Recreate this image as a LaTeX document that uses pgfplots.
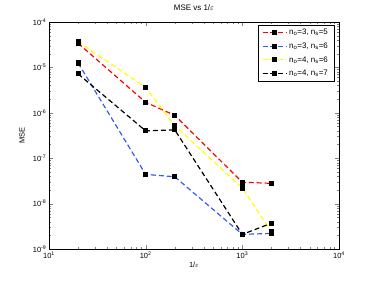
\documentclass[border=0pt]{standalone}
\usepackage{fontspec}
\setmainfont{Liberation Sans}
\usepackage{pgfplots}
\pgfplotsset{compat=1.18}
\definecolor{mblue}{rgb}{0.2,0.35,1}
\definecolor{myellow}{rgb}{1,1,0}
\begin{document}
\fontsize{7.5}{9}\selectfont
\begin{tikzpicture}
\begin{loglogaxis}[
  at={(0,0)}, anchor=south west,
  scale only axis, width=290bp, height=227bp,
  xmin=10, xmax=10000, ymin=1e-9, ymax=1e-4,
  xtick={10,100,1000,10000},
  xticklabels={10\textsuperscript{1},10\textsuperscript{2},10\textsuperscript{3},10\textsuperscript{4}},
  ytick={1e-9,1e-8,1e-7,1e-6,1e-5,1e-4},
  yticklabels={10\textsuperscript{-9},10\textsuperscript{-8},10\textsuperscript{-7},10\textsuperscript{-6},10\textsuperscript{-5},10\textsuperscript{-4}},
  tick label style={font=\fontsize{7.5}{9}\selectfont},
  tick align=inside, tick pos=both,
  major tick length=4bp, minor tick length=2bp,
  title={MSE vs 1/$\varepsilon$},
  title style={at={(0.5,1)}, anchor=south, yshift=3bp, font=\fontsize{8}{9}\selectfont},
  xlabel={1/$\varepsilon$}, ylabel={MSE},
  xlabel style={font=\fontsize{7.5}{9}\selectfont, yshift=2bp},
  ylabel style={font=\fontsize{7.5}{9}\selectfont, yshift=3bp},
  legend style={at={(0.983,0.987)}, anchor=north east, draw=black,
    font=\fontsize{8}{9.5}\selectfont, row sep=3pt, inner xsep=4pt},
  legend cell align=left,
  legend image code/.code={\draw[mark repeat=2,mark phase=2] plot coordinates {(0bp,0bp)(12bp,0bp)(24bp,0bp)};},
  every axis plot/.append style={line width=1.2pt, dash pattern=on 5pt off 3pt,
    mark=square*, mark size=2pt, mark options={solid, fill=black, draw=black}},
]
\addplot[red] coordinates {(20,3.4e-5) (100,1.7e-6) (200,8.8e-7) (1000,2.95e-8) (2000,2.8e-8)};
\addlegendentry{n\textsubscript{o}=3, n\textsubscript{s}=5}
\addplot[mblue] coordinates {(20,1.25e-5) (100,4.4e-8) (200,3.9e-8) (1000,2.1e-9) (2000,2.2e-9)};
\addlegendentry{n\textsubscript{o}=3, n\textsubscript{s}=6}
\addplot[myellow] coordinates {(20,3.7e-5) (100,3.6e-6) (200,5.2e-7) (1000,2.2e-8) (2000,2.4e-9)};
\addlegendentry{n\textsubscript{o}=4, n\textsubscript{s}=6}
\addplot[black] coordinates {(20,7.2e-6) (100,4.0e-7) (200,4.2e-7) (1000,2.1e-9) (2000,3.7e-9)};
\addlegendentry{n\textsubscript{o}=4, n\textsubscript{s}=7}
\end{loglogaxis}
\pgfresetboundingbox
\useasboundingbox (-49bp,-32bp) rectangle (325bp,249bp);
\end{tikzpicture}
\end{document}
